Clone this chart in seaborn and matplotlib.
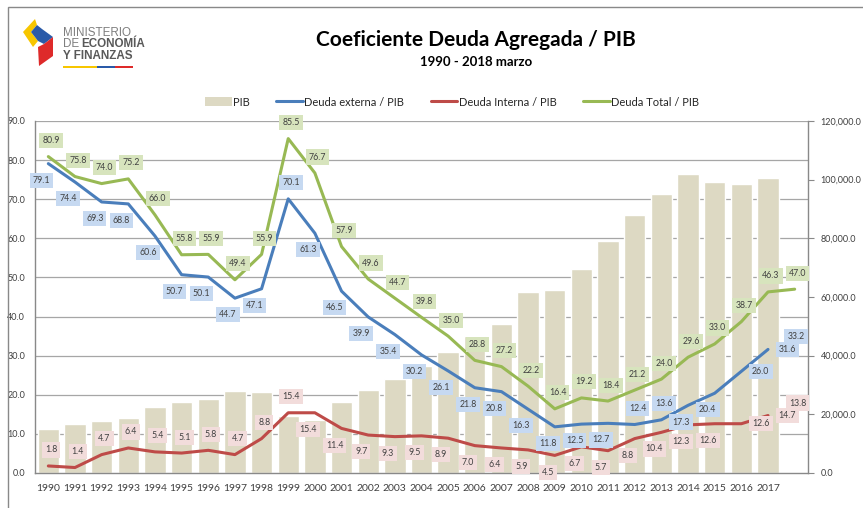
import numpy as np
import pandas as pd
import matplotlib
matplotlib.use("Agg")
import matplotlib.pyplot as plt
import seaborn as sns
from matplotlib.patches import Polygon, Rectangle, Patch
from matplotlib.lines import Line2D
from matplotlib.ticker import FuncFormatter, MultipleLocator

# --- data ---
anios = list(range(1990, 2019))  # 1990 .. 2018 (marzo)
anios_pib = list(range(1990, 2018))
pib = [15.0, 16.7, 17.8, 18.8, 22.5, 24.2, 25.1, 28.0, 27.7, 19.5,
       18.1, 24.3, 28.3, 32.2, 36.4, 41.3, 46.7, 50.8, 61.7, 62.5,
       69.4, 79.2, 87.9, 95.0, 101.8, 99.2, 98.5, 100.5]  # miles de millones USD
deuda_externa = [79.1, 74.4, 69.3, 68.8, 60.6, 50.7, 50.1, 44.7, 47.1, 70.1,
                 61.3, 46.5, 39.9, 35.4, 30.2, 26.1, 21.8, 20.8, 16.3, 11.8,
                 12.5, 12.7, 12.4, 13.6, 17.3, 20.4, 26.0, 31.6, 33.2]
deuda_interna = [1.8, 1.4, 4.7, 6.4, 5.4, 5.1, 5.8, 4.7, 8.8, 15.4,
                 15.4, 11.4, 9.7, 9.3, 9.5, 8.9, 7.0, 6.4, 5.9, 4.5,
                 6.7, 5.7, 8.8, 10.4, 12.3, 12.6, 12.6, 14.7, 13.8]
deuda_total = [80.9, 75.8, 74.0, 75.2, 66.0, 55.8, 55.9, 49.4, 55.9, 85.5,
               76.7, 57.9, 49.6, 44.7, 39.8, 35.0, 28.8, 27.2, 22.2, 16.4,
               19.2, 18.4, 21.2, 24.0, 29.6, 33.0, 38.7, 46.3, 47.0]

# label placement codes (a=above, b=below, r=right, n=near)
pos_externa = list("bbbbbbbbbabbbbbbbbbbbbaabbrrn")
pos_interna = list("aaaaaaaaaabbbbbbbbbbbbbbbbrra")
pos_total = list("a" * 29)

C_PIB = "#ddd9c3"
C_EXT = "#4a7ebb"
C_INT = "#be4b48"
C_TOT = "#98b954"
BG_EXT = "#c6d9f1"
BG_INT = "#f2dcdb"
BG_TOT = "#d7e4bd"
GRAY = "#898989"
TXT = "#404040"

W, H = 863, 508

sns.set_style("white")
plt.rcParams["font.family"] = ["Lato", "DejaVu Sans"]

fig = plt.figure(figsize=(W / 100, H / 100), dpi=100)

def fx(x):
    return x / W

def fy(y):
    return 1 - y / H

# plot area
left, right, top, bottom = 35, 808, 121, 473
ax_b = fig.add_axes([fx(left), fy(bottom), (right - left) / W, (bottom - top) / H])
ax_l = ax_b.twinx()

# bars (PIB, right axis)
df_pib = pd.DataFrame({"anio": [str(a) for a in anios_pib],
                       "pib": [v * 1000 for v in pib]})
sns.barplot(data=df_pib, x="anio", y="pib", ax=ax_b, color=C_PIB,
            saturation=1, width=0.8, errorbar=None, zorder=2)
ax_b.set_xlim(-0.5, len(anios) - 0.5)
ax_b.set_ylim(0, 120000)
pib_max = 120000

# horizontal grid matching the left axis
for lev in np.arange(10, 91, 10):
    ax_b.axhline(lev * pib_max / 90, color="#a6a6a6", lw=0.9, zorder=0.5)

# lines (ratios, left axis)
x_all = np.arange(len(anios))
n_pib = len(anios_pib)
sns.lineplot(x=x_all[:n_pib], y=deuda_externa[:n_pib], ax=ax_l, color=C_EXT, lw=2.2)
sns.lineplot(x=x_all[:n_pib], y=deuda_interna[:n_pib], ax=ax_l, color=C_INT, lw=2.2)
sns.lineplot(x=x_all, y=deuda_total, ax=ax_l, color=C_TOT, lw=2.2)
ax_l.set_ylim(0, 90)
ax_l.set_xlim(-0.5, len(anios) - 0.5)

offsets = {"a": (2, 11.5), "b": (-5, -12), "r": (14, 0), "n": (1, 5)}

def etiquetas(vals, posiciones, bg):
    for i, (v, p) in enumerate(zip(vals, posiciones)):
        ax_l.annotate(f"{v:.1f}", xy=(i, v), xytext=offsets[p],
                      textcoords="offset points", ha="center", va="center",
                      fontsize=6.3, color=TXT, zorder=5,
                      bbox=dict(boxstyle="square,pad=0.35", fc=bg, ec="none"))

etiquetas(deuda_externa, pos_externa, BG_EXT)
etiquetas(deuda_interna, pos_interna, BG_INT)
etiquetas(deuda_total, pos_total, BG_TOT)

# axes styling
ax_b.set_xlabel("")
ax_b.set_ylabel("")
ax_l.set_xlabel("")
ax_l.set_ylabel("")
ax_l.yaxis.set_ticks_position("left")
ax_b.yaxis.set_ticks_position("right")
ax_l.yaxis.set_major_locator(MultipleLocator(10))
ax_l.yaxis.set_major_formatter(FuncFormatter(lambda v, _: f"{v:.1f}"))
ax_b.yaxis.set_major_locator(MultipleLocator(20000))
ax_b.yaxis.set_major_formatter(FuncFormatter(lambda v, _: f"{v:,.1f}"))
ax_l.tick_params(axis="y", length=0, pad=7, labelsize=6.5, labelcolor=TXT)
ax_b.tick_params(axis="y", direction="out", length=4, color=GRAY, pad=5,
                 labelsize=6.5, labelcolor=TXT)
ax_b.tick_params(axis="x", length=0, pad=8, labelsize=7.5, labelcolor=TXT)

for s in ax_l.spines.values():
    s.set_visible(False)
ax_b.spines["top"].set_visible(False)
for k in ("left", "right", "bottom"):
    ax_b.spines[k].set_color(GRAY)
    ax_b.spines[k].set_linewidth(1.0)

# legend
handles = [Patch(fc=C_PIB, ec="none"),
           Line2D([], [], color=C_EXT, lw=2.2),
           Line2D([], [], color=C_INT, lw=2.2),
           Line2D([], [], color=C_TOT, lw=2.2)]
labels = ["PIB", "Deuda externa / PIB", "Deuda Interna / PIB", "Deuda Total / PIB"]
fig.legend(handles, labels, loc="center", bbox_to_anchor=(fx(452), fy(102)),
           ncol=4, frameon=False, fontsize=8, handlelength=2.4, handleheight=0.8,
           handletextpad=0.1, columnspacing=2.4, labelcolor="#262626")

# titles
fig.text(fx(476), fy(40), "Coeficiente Deuda Agregada / PIB", ha="center",
         va="center", fontsize=15, weight="bold", color="black")
fig.text(fx(476), fy(62), "1990 - 2018 marzo", ha="center", va="center",
         fontsize=9.5, weight="bold", color="black")

# outer frame
fig.add_artist(Rectangle((fx(8), -0.05), 1.1, fy(7) + 0.05, transform=fig.transFigure,
                         fill=False, ec=GRAY, lw=1.0))

# logo
def poly(pts, color):
    fig.add_artist(Polygon([(fx(x), fy(y)) for x, y in pts], closed=True,
                           transform=fig.transFigure, fc=color, ec="none"))

poly([(35, 19), (23, 32), (33, 47), (38, 41), (31, 32), (37, 25)], "#f7c600")
poly([(37, 25), (31, 32), (38, 41), (44, 44), (53, 37), (42, 29)], "#2a5aa8")
poly([(53, 37), (44, 44), (38, 47), (39, 66), (53, 56)], "#de2a2a")

logo_font = ["Liberation Sans", "DejaVu Sans"]
fig.text(fx(63), fy(33), "MINISTERIO", fontsize=8.4, color="#7f7f7f",
         va="center", family=logo_font)
fig.text(fx(63), fy(44), "DE", fontsize=8.4, color="#7f7f7f", va="center",
         family=logo_font)
fig.text(fx(81), fy(44), "ECONOMÍA", fontsize=8.4, color="#595959", va="center",
         weight="bold", family=logo_font)
fig.text(fx(63), fy(56), "Y FINANZAS", fontsize=8.4, color="#595959", va="center",
         weight="bold", family=logo_font)
for x0, x1, c in ((63, 97, "#f7c600"), (97, 115, "#2a5aa8"), (115, 133, "#de2a2a")):
    fig.add_artist(Rectangle((fx(x0), fy(68)), (x1 - x0) / W, 2 / H,
                             transform=fig.transFigure, fc=c, ec="none"))

fig.savefig("out.png", dpi=100)
